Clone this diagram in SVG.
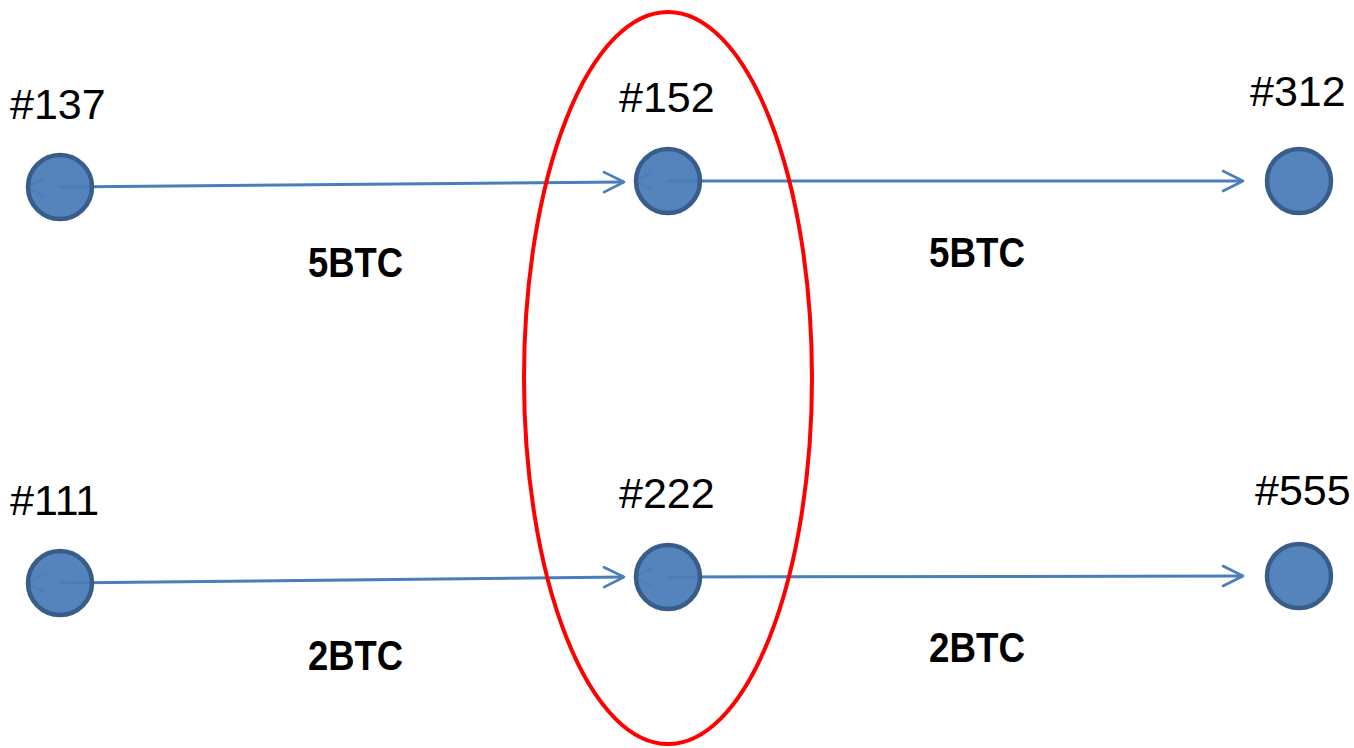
<svg xmlns="http://www.w3.org/2000/svg" width="1354" height="748" viewBox="0 0 1354 748">
  <style>
    .edge { stroke: #4A7EBB; stroke-width: 3; fill: none; marker-end: url(#open); marker-start: url(#faint); }
    .node { fill: #4A7CB9; fill-opacity: 0.94; stroke: #385D8A; stroke-width: 4.5; }
    .id { font-family: "Liberation Sans", Arial, sans-serif; font-size: 43px; fill: #000; }
    .amt { font-family: "Liberation Sans", Arial, sans-serif; font-size: 43px; font-weight: bold; fill: #000; }
  </style>
  <defs>
    <marker id="open" viewBox="0 0 12 12" refX="11" refY="6" markerWidth="8" markerHeight="8" orient="auto" markerUnits="strokeWidth">
      <path d="M1,1 L11,6 L1,11" fill="none" stroke="#4A7EBB" stroke-width="1.3" stroke-linejoin="round" stroke-linecap="round"/>
    </marker>
    <marker id="faint" viewBox="0 0 12 12" refX="-8" refY="6" markerWidth="7" markerHeight="7" orient="auto-start-reverse" markerUnits="strokeWidth">
      <path d="M1,1 L11,6 L1,11" fill="none" stroke="#4A7EBB" stroke-width="1.1" stroke-linejoin="round" stroke-linecap="round"/>
    </marker>
  </defs>

  <rect width="1354" height="748" fill="#fff"/>

  <!-- transfers -->
  <g id="connectors">
    <line class="edge" x1="60" y1="187" x2="624" y2="182"/>
    <line class="edge" x1="668" y1="181" x2="1243" y2="181"/>
    <line class="edge" x1="60" y1="583" x2="624" y2="577"/>
    <line class="edge" x1="668" y1="577" x2="1243" y2="576"/>
  </g>

  <g id="n137"><circle class="node" cx="60" cy="187" r="32"/><text class="id" x="10" y="119">#137</text></g>
  <g id="n152"><circle class="node" cx="668" cy="181" r="32"/><text class="id" x="619" y="112">#152</text></g>
  <g id="n312"><circle class="node" cx="1299" cy="181" r="32"/><text class="id" x="1250" y="106">#312</text></g>
  <g id="n111"><circle class="node" cx="60" cy="583" r="32"/><text class="id" x="10" y="515">#111</text></g>
  <g id="n222"><circle class="node" cx="668" cy="577" r="32"/><text class="id" x="619" y="508">#222</text></g>
  <g id="n555"><circle class="node" cx="1299" cy="576" r="32"/><text class="id" x="1255" y="505">#555</text></g>

  <!-- amounts -->
  <g id="amounts">
    <text class="amt" x="308" y="277" textLength="95" lengthAdjust="spacingAndGlyphs">5BTC</text>
    <text class="amt" x="929" y="267" textLength="96" lengthAdjust="spacingAndGlyphs">5BTC</text>
    <text class="amt" x="308" y="670" textLength="95" lengthAdjust="spacingAndGlyphs">2BTC</text>
    <text class="amt" x="929" y="662" textLength="96" lengthAdjust="spacingAndGlyphs">2BTC</text>
  </g>

  <!-- grouping of the middle addresses -->
  <g id="cluster">
    <ellipse cx="668" cy="378" rx="144" ry="366" fill="none" stroke="#FF0000" stroke-width="4"/>
  </g>
</svg>
